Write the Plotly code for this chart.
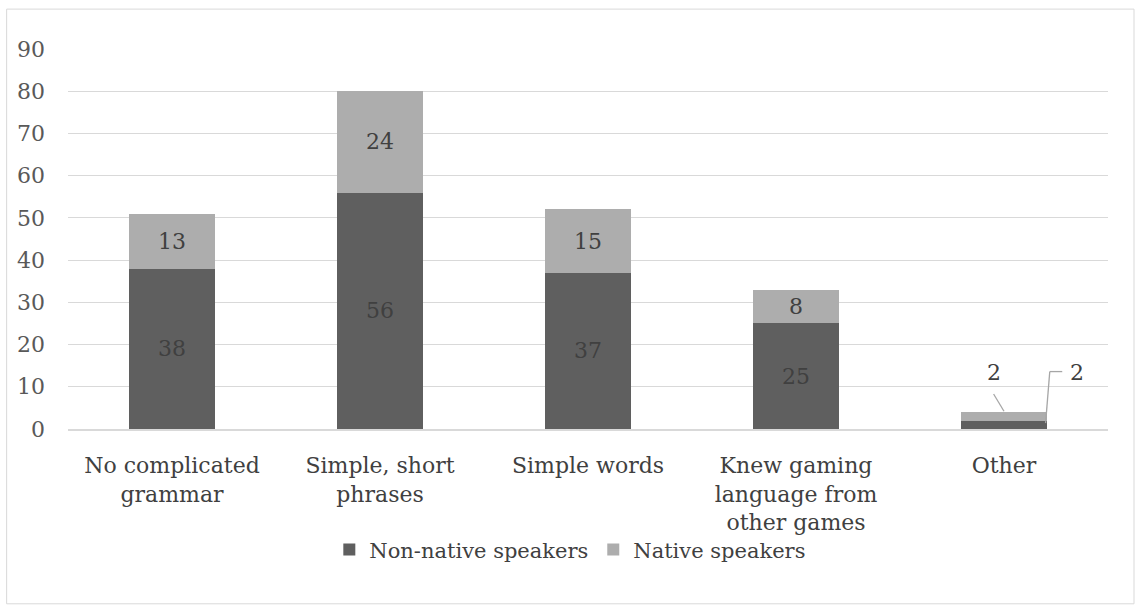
import plotly.graph_objects as go

categories = ["No complicated<br>grammar", "Simple, short<br>phrases", "Simple words",
              "Knew gaming<br>language from<br>other games", "Other"]
non_native = [38, 56, 37, 25, 2]
native = [13, 24, 15, 8, 2]
y_ticks = [0, 10, 20, 30, 40, 50, 60, 70, 80, 90]

FONT = "DejaVu Serif"
SIZE = 22
LABEL_COLOR = "#404040"

# values on the last (short) bar are drawn as callouts instead of inside the bar
inner_nn = [str(v) for v in non_native[:-1]] + [""]
inner_n = [str(v) for v in native[:-1]] + [""]

fig = go.Figure()
fig.add_trace(go.Bar(
    name="Non-native speakers", x=categories, y=non_native,
    marker=dict(color="#5f5f5f", line=dict(width=0)),
    text=inner_nn, textposition="inside", insidetextanchor="middle",
    textfont=dict(family=FONT, size=SIZE, color=LABEL_COLOR),
    constraintext="none",
))
fig.add_trace(go.Bar(
    name="Native speakers", x=categories, y=native,
    marker=dict(color="#adadad", line=dict(width=0)),
    text=inner_n, textposition="inside", insidetextanchor="middle",
    textfont=dict(family=FONT, size=SIZE, color=LABEL_COLOR),
    constraintext="none",
))

# callout labels for the "Other" bar
last = len(categories) - 1
label_y = 13.3
fig.add_annotation(x=last - 0.05, y=label_y, xref="x", yref="y", text=str(native[-1]),
                   showarrow=False, font=dict(family=FONT, size=SIZE, color=LABEL_COLOR))
fig.add_annotation(x=last + 0.35, y=label_y, xref="x", yref="y", text=str(non_native[-1]),
                   showarrow=False, font=dict(family=FONT, size=SIZE, color=LABEL_COLOR))

leader = dict(color="#a6a6a6", width=1.3)
top_other = non_native[-1] + native[-1]
fig.add_shape(type="line", xref="x", yref="y", x0=last - 0.05, y0=8.3,
              x1=last, y1=top_other + 0.2, line=leader)
fig.add_shape(type="line", xref="x", yref="y", x0=last + 0.28, y0=13.6,
              x1=last + 0.22, y1=13.6, line=leader)
fig.add_shape(type="line", xref="x", yref="y", x0=last + 0.22, y0=13.6,
              x1=last + 0.2, y1=non_native[-1] * 0.7, line=leader)

# outer chart border
fig.add_shape(type="rect", xref="paper", yref="paper",
              x0=-0.059, y0=-0.46, x1=1.025, y1=1.105,
              line=dict(color="#d9d9d9", width=1), fillcolor="rgba(0,0,0,0)", layer="below")

fig.update_layout(
    barmode="stack",
    bargap=0.587,
    width=1140, height=611,
    margin=dict(l=68, r=32, t=49, b=182),
    paper_bgcolor="white", plot_bgcolor="white",
    font=dict(family=FONT, size=SIZE, color="#404040"),
    showlegend=True,
    legend=dict(orientation="h", x=0.483, xanchor="center", y=-0.318, yanchor="middle",
                bgcolor="rgba(0,0,0,0)",
                font=dict(family=FONT, size=21, color="#404040"),
                itemwidth=30, tracegroupgap=0, traceorder="normal"),
    xaxis=dict(showgrid=False, showline=True, linecolor="#d9d9d9", linewidth=1.5,
               ticks="", ticklabelstandoff=16,
               tickfont=dict(family=FONT, size=SIZE, color="#404040")),
    yaxis=dict(range=[0, 90], tickvals=y_ticks, showgrid=True, gridcolor="#d9d9d9",
               gridwidth=1.3, zeroline=False, showline=False, ticks="",
               ticklabelstandoff=22,
               tickfont=dict(family=FONT, size=SIZE, color="#595959")),
)

fig.write_html("out.html")
